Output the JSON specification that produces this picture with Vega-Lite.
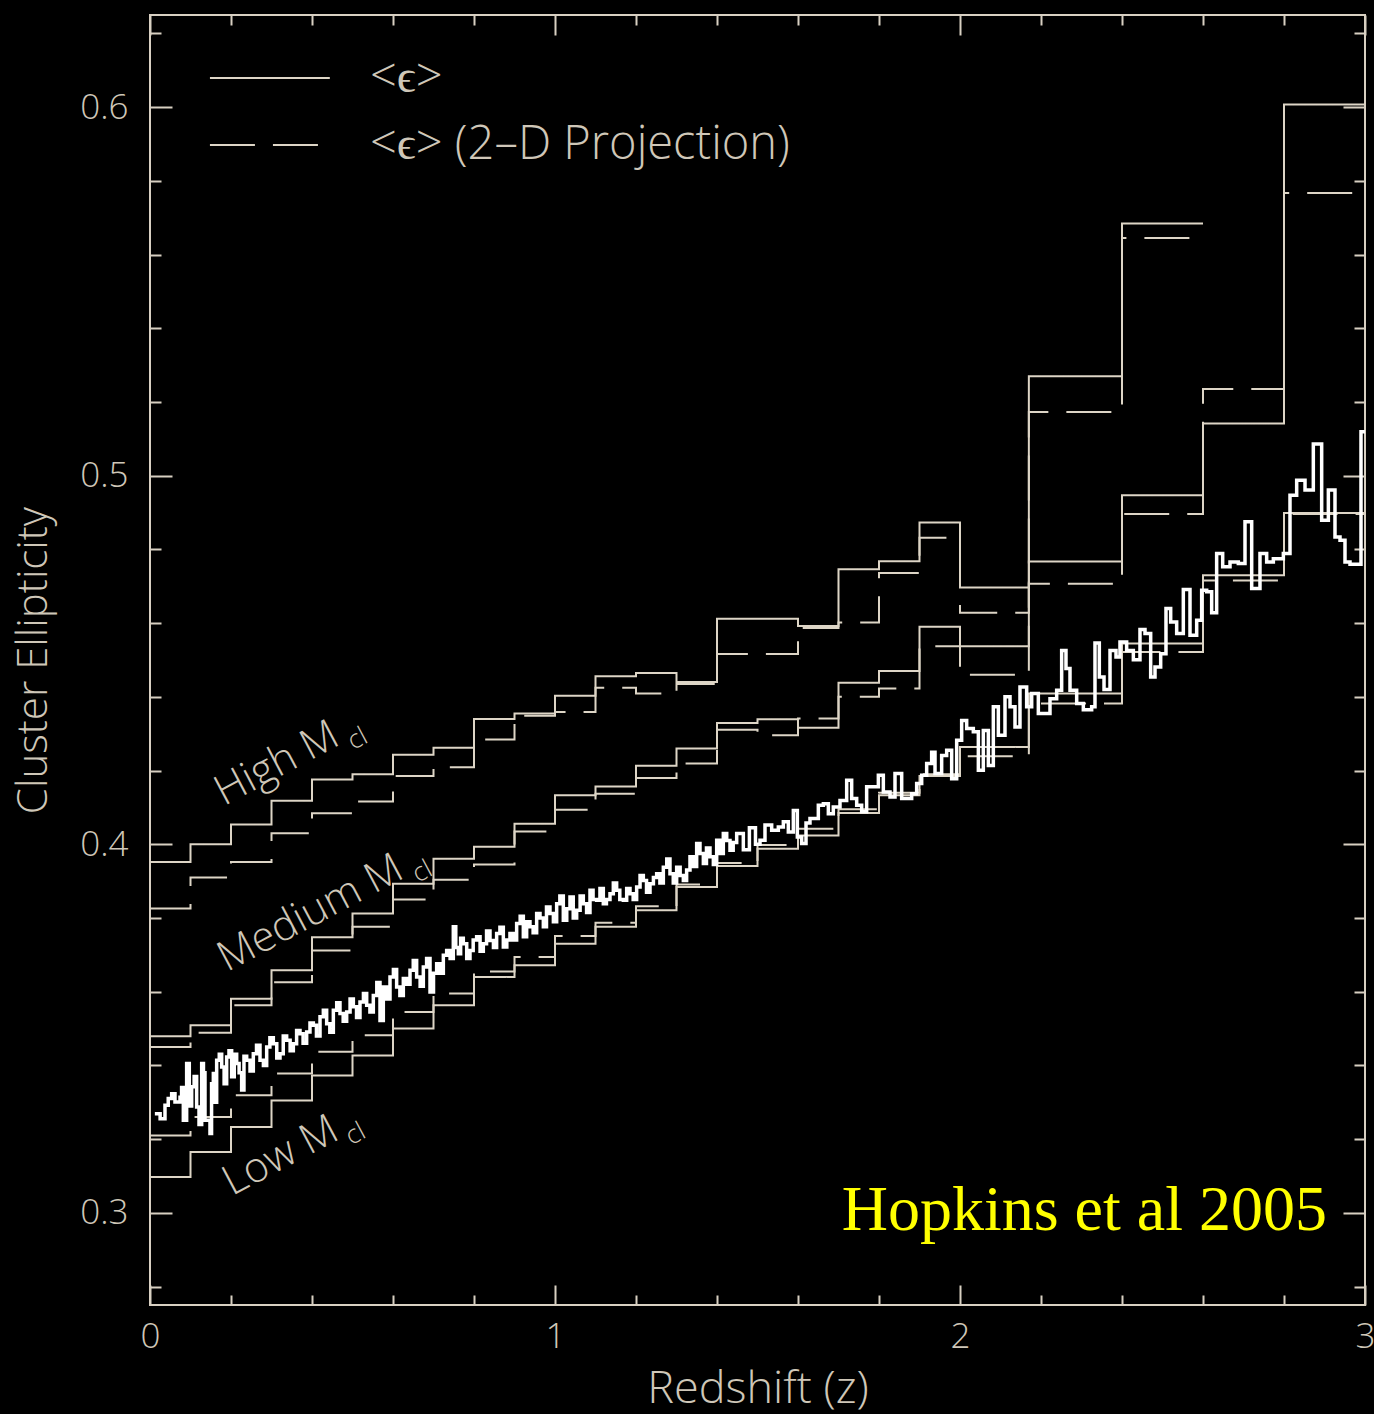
{
  "$schema": "https://vega.github.io/schema/vega-lite/v6.json",
  "width": 1215,
  "height": 1290,
  "autosize": {"type": "none"},
  "padding": {"left": 150, "top": 15, "right": 9, "bottom": 109},
  "background": "#000000",
  "config": {
    "view": {"stroke": "#d8d0c2", "strokeWidth": 2},
    "axis": {
      "domain": false, "grid": false,
      "labelColor": "#cfc7b8", "titleColor": "#cfc7b8",
      "tickColor": "#d8d0c2", "tickWidth": 2,
      "labelFont": "Open Sans", "titleFont": "Open Sans",
      "labelFontWeight": 300, "titleFontWeight": 300,
      "labelFontSize": 35, "titleFontSize": 45
    }
  },
  "datasets": {
    "steps": [
      {"s":"High","k":"3D","z":0,"v":0.3952},{"s":"High","k":"3D","z":0.1,"v":0.4000},{"s":"High","k":"3D","z":0.2,"v":0.4054},{"s":"High","k":"3D","z":0.3,"v":0.4118},{"s":"High","k":"3D","z":0.4,"v":0.4176},{"s":"High","k":"3D","z":0.5,"v":0.4190},{"s":"High","k":"3D","z":0.6,"v":0.4243},{"s":"High","k":"3D","z":0.7,"v":0.4262},{"s":"High","k":"3D","z":0.8,"v":0.4340},{"s":"High","k":"3D","z":0.9,"v":0.4355},{"s":"High","k":"3D","z":1.0,"v":0.4403},{"s":"High","k":"3D","z":1.1,"v":0.4456},{"s":"High","k":"3D","z":1.2,"v":0.4465},{"s":"High","k":"3D","z":1.3,"v":0.4440},{"s":"High","k":"3D","z":1.4,"v":0.4612},{"s":"High","k":"3D","z":1.5,"v":0.4612},{"s":"High","k":"3D","z":1.6,"v":0.4592},{"s":"High","k":"3D","z":1.7,"v":0.4746},{"s":"High","k":"3D","z":1.8,"v":0.4768},{"s":"High","k":"3D","z":1.9,"v":0.4873},{"s":"High","k":"3D","z":2.0,"v":0.4697},{"s":"High","k":"3D","z":2.17,"v":0.5270},{"s":"High","k":"3D","z":2.4,"v":0.5684},{"s":"High","k":"3D","z":2.6,"v":0.5684},
      {"s":"High","k":"2D","z":0,"v":0.3826},{"s":"High","k":"2D","z":0.1,"v":0.3910},{"s":"High","k":"2D","z":0.2,"v":0.3952},{"s":"High","k":"2D","z":0.3,"v":0.4030},{"s":"High","k":"2D","z":0.4,"v":0.4084},{"s":"High","k":"2D","z":0.5,"v":0.4116},{"s":"High","k":"2D","z":0.6,"v":0.4185},{"s":"High","k":"2D","z":0.7,"v":0.4209},{"s":"High","k":"2D","z":0.8,"v":0.4284},{"s":"High","k":"2D","z":0.9,"v":0.4349},{"s":"High","k":"2D","z":1.0,"v":0.4359},{"s":"High","k":"2D","z":1.1,"v":0.4425},{"s":"High","k":"2D","z":1.2,"v":0.4409},{"s":"High","k":"2D","z":1.3,"v":0.4435},{"s":"High","k":"2D","z":1.4,"v":0.4516},{"s":"High","k":"2D","z":1.5,"v":0.4516},{"s":"High","k":"2D","z":1.6,"v":0.4587},{"s":"High","k":"2D","z":1.7,"v":0.4602},{"s":"High","k":"2D","z":1.8,"v":0.4736},{"s":"High","k":"2D","z":1.9,"v":0.4832},{"s":"High","k":"2D","z":2.0,"v":0.4628},{"s":"High","k":"2D","z":2.17,"v":0.5173},{"s":"High","k":"2D","z":2.4,"v":0.5645},{"s":"High","k":"2D","z":2.6,"v":0.5645},
      {"s":"Medium","k":"3D","z":0,"v":0.3479},{"s":"Medium","k":"3D","z":0.1,"v":0.3509},{"s":"Medium","k":"3D","z":0.2,"v":0.3581},{"s":"Medium","k":"3D","z":0.3,"v":0.3658},{"s":"Medium","k":"3D","z":0.4,"v":0.3748},{"s":"Medium","k":"3D","z":0.5,"v":0.3812},{"s":"Medium","k":"3D","z":0.6,"v":0.3893},{"s":"Medium","k":"3D","z":0.7,"v":0.3961},{"s":"Medium","k":"3D","z":0.8,"v":0.3993},{"s":"Medium","k":"3D","z":0.9,"v":0.4056},{"s":"Medium","k":"3D","z":1.0,"v":0.4133},{"s":"Medium","k":"3D","z":1.1,"v":0.4157},{"s":"Medium","k":"3D","z":1.2,"v":0.4213},{"s":"Medium","k":"3D","z":1.3,"v":0.4260},{"s":"Medium","k":"3D","z":1.4,"v":0.4329},{"s":"Medium","k":"3D","z":1.5,"v":0.4339},{"s":"Medium","k":"3D","z":1.6,"v":0.4316},{"s":"Medium","k":"3D","z":1.7,"v":0.4438},{"s":"Medium","k":"3D","z":1.8,"v":0.4470},{"s":"Medium","k":"3D","z":1.9,"v":0.4590},{"s":"Medium","k":"3D","z":2.0,"v":0.4537},{"s":"Medium","k":"3D","z":2.17,"v":0.4767},{"s":"Medium","k":"3D","z":2.4,"v":0.4947},{"s":"Medium","k":"3D","z":2.6,"v":0.5142},{"s":"Medium","k":"3D","z":2.8,"v":0.6007},{"s":"Medium","k":"3D","z":3.0,"v":0.6007},
      {"s":"Medium","k":"2D","z":0,"v":0.3450},{"s":"Medium","k":"2D","z":0.1,"v":0.3489},{"s":"Medium","k":"2D","z":0.2,"v":0.3563},{"s":"Medium","k":"2D","z":0.3,"v":0.3626},{"s":"Medium","k":"2D","z":0.4,"v":0.3712},{"s":"Medium","k":"2D","z":0.5,"v":0.3776},{"s":"Medium","k":"2D","z":0.6,"v":0.3850},{"s":"Medium","k":"2D","z":0.7,"v":0.3904},{"s":"Medium","k":"2D","z":0.8,"v":0.3945},{"s":"Medium","k":"2D","z":0.9,"v":0.4035},{"s":"Medium","k":"2D","z":1.0,"v":0.4094},{"s":"Medium","k":"2D","z":1.1,"v":0.4137},{"s":"Medium","k":"2D","z":1.2,"v":0.4180},{"s":"Medium","k":"2D","z":1.3,"v":0.4219},{"s":"Medium","k":"2D","z":1.4,"v":0.4311},{"s":"Medium","k":"2D","z":1.5,"v":0.4296},{"s":"Medium","k":"2D","z":1.6,"v":0.4341},{"s":"Medium","k":"2D","z":1.7,"v":0.4400},{"s":"Medium","k":"2D","z":1.8,"v":0.4423},{"s":"Medium","k":"2D","z":1.9,"v":0.4537},{"s":"Medium","k":"2D","z":2.0,"v":0.4460},{"s":"Medium","k":"2D","z":2.17,"v":0.4707},{"s":"Medium","k":"2D","z":2.4,"v":0.4896},{"s":"Medium","k":"2D","z":2.6,"v":0.5235},{"s":"Medium","k":"2D","z":2.8,"v":0.5767},{"s":"Medium","k":"2D","z":3.0,"v":0.5767},
      {"s":"Low","k":"3D","z":0,"v":0.3097},{"s":"Low","k":"3D","z":0.1,"v":0.3165},{"s":"Low","k":"3D","z":0.2,"v":0.3233},{"s":"Low","k":"3D","z":0.3,"v":0.3305},{"s":"Low","k":"3D","z":0.4,"v":0.3373},{"s":"Low","k":"3D","z":0.5,"v":0.3427},{"s":"Low","k":"3D","z":0.6,"v":0.3500},{"s":"Low","k":"3D","z":0.7,"v":0.3563},{"s":"Low","k":"3D","z":0.8,"v":0.3640},{"s":"Low","k":"3D","z":0.9,"v":0.3672},{"s":"Low","k":"3D","z":1.0,"v":0.3730},{"s":"Low","k":"3D","z":1.1,"v":0.3776},{"s":"Low","k":"3D","z":1.2,"v":0.3821},{"s":"Low","k":"3D","z":1.3,"v":0.3884},{"s":"Low","k":"3D","z":1.4,"v":0.3941},{"s":"Low","k":"3D","z":1.5,"v":0.3988},{"s":"Low","k":"3D","z":1.6,"v":0.4024},{"s":"Low","k":"3D","z":1.7,"v":0.4085},{"s":"Low","k":"3D","z":1.8,"v":0.4133},{"s":"Low","k":"3D","z":1.9,"v":0.4185},{"s":"Low","k":"3D","z":2.0,"v":0.4264},{"s":"Low","k":"3D","z":2.17,"v":0.4409},{"s":"Low","k":"3D","z":2.4,"v":0.4545},{"s":"Low","k":"3D","z":2.6,"v":0.4730},{"s":"Low","k":"3D","z":2.8,"v":0.4899},{"s":"Low","k":"3D","z":3.0,"v":0.4899},
      {"s":"Low","k":"2D","z":0,"v":0.3210},{"s":"Low","k":"2D","z":0.1,"v":0.3260},{"s":"Low","k":"2D","z":0.2,"v":0.3319},{"s":"Low","k":"2D","z":0.3,"v":0.3378},{"s":"Low","k":"2D","z":0.4,"v":0.3437},{"s":"Low","k":"2D","z":0.5,"v":0.3482},{"s":"Low","k":"2D","z":0.6,"v":0.3545},{"s":"Low","k":"2D","z":0.7,"v":0.3595},{"s":"Low","k":"2D","z":0.8,"v":0.3655},{"s":"Low","k":"2D","z":0.9,"v":0.3694},{"s":"Low","k":"2D","z":1.0,"v":0.3751},{"s":"Low","k":"2D","z":1.1,"v":0.3787},{"s":"Low","k":"2D","z":1.2,"v":0.3832},{"s":"Low","k":"2D","z":1.3,"v":0.3891},{"s":"Low","k":"2D","z":1.4,"v":0.3949},{"s":"Low","k":"2D","z":1.5,"v":0.3998},{"s":"Low","k":"2D","z":1.6,"v":0.4042},{"s":"Low","k":"2D","z":1.7,"v":0.4095},{"s":"Low","k":"2D","z":1.8,"v":0.4140},{"s":"Low","k":"2D","z":1.9,"v":0.4190},{"s":"Low","k":"2D","z":2.0,"v":0.4239},{"s":"Low","k":"2D","z":2.17,"v":0.4382},{"s":"Low","k":"2D","z":2.4,"v":0.4522},{"s":"Low","k":"2D","z":2.6,"v":0.4716},{"s":"Low","k":"2D","z":2.8,"v":0.4896},{"s":"Low","k":"2D","z":3.0,"v":0.4896}
    ],
    "white": [
      {"z":0.012,"v":0.3269},{"z":0.037,"v":0.3292},{"z":0.0535,"v":0.3323},{"z":0.0617,"v":0.3301},{"z":0.0741,"v":0.3314},{"z":0.0823,"v":0.3251},{"z":0.0905,"v":0.3405},{"z":0.1029,"v":0.3342},{"z":0.1152,"v":0.3287},{"z":0.1276,"v":0.3405},{"z":0.1358,"v":0.3251},{"z":0.1481,"v":0.3215},{"z":0.1564,"v":0.3378},{"z":0.1646,"v":0.3414},{"z":0.177,"v":0.3396},{"z":0.1893,"v":0.3423},{"z":0.2016,"v":0.3369},{"z":0.214,"v":0.3405},{"z":0.2263,"v":0.3333},{"z":0.2387,"v":0.3414},{"z":0.2551,"v":0.3432},{"z":0.2716,"v":0.3414},{"z":0.2881,"v":0.345},{"z":0.3045,"v":0.3459},{"z":0.321,"v":0.3432},{"z":0.3374,"v":0.3468},{"z":0.3539,"v":0.3459},{"z":0.3704,"v":0.3486},{"z":0.3868,"v":0.3491},{"z":0.4033,"v":0.3509},{"z":0.4198,"v":0.3532},{"z":0.4362,"v":0.3513},{"z":0.4527,"v":0.355},{"z":0.4691,"v":0.3541},{"z":0.4856,"v":0.3545},{"z":0.5021,"v":0.3559},{"z":0.5185,"v":0.3572},{"z":0.535,"v":0.3563},{"z":0.5514,"v":0.359},{"z":0.5679,"v":0.3522},{"z":0.5761,"v":0.3613},{"z":0.5926,"v":0.364},{"z":0.609,"v":0.3613},{"z":0.6255,"v":0.3636},{"z":0.642,"v":0.3658},{"z":0.6584,"v":0.364},{"z":0.6749,"v":0.3667},{"z":0.6914,"v":0.3599},{"z":0.7078,"v":0.3676},{"z":0.7243,"v":0.3699},{"z":0.7325,"v":0.3712},{"z":0.7489,"v":0.3776},{"z":0.7613,"v":0.3703},{"z":0.7736,"v":0.373},{"z":0.7901,"v":0.3712},{"z":0.8065,"v":0.3749},{"z":0.823,"v":0.373},{"z":0.8395,"v":0.3739},{"z":0.8559,"v":0.3758},{"z":0.8724,"v":0.3721},{"z":0.8888,"v":0.3758},{"z":0.9053,"v":0.3785},{"z":0.9218,"v":0.3749},{"z":0.9382,"v":0.3776},{"z":0.9547,"v":0.3812},{"z":0.9712,"v":0.3776},{"z":0.9876,"v":0.3812},{"z":1.0041,"v":0.3839},{"z":1.0205,"v":0.3794},{"z":1.037,"v":0.3857},{"z":1.0535,"v":0.3821},{"z":1.0699,"v":0.3839},{"z":1.0864,"v":0.3875},{"z":1.1028,"v":0.3848},{"z":1.1193,"v":0.3839},{"z":1.1358,"v":0.3866},{"z":1.1522,"v":0.3875},{"z":1.1687,"v":0.3848},{"z":1.1852,"v":0.3866},{"z":1.2016,"v":0.3884},{"z":1.2181,"v":0.3902},{"z":1.2346,"v":0.3893},{"z":1.251,"v":0.392},{"z":1.2675,"v":0.3938},{"z":1.2839,"v":0.392},{"z":1.3004,"v":0.3938},{"z":1.3169,"v":0.3902},{"z":1.3333,"v":0.3966},{"z":1.3498,"v":0.4002},{"z":1.3663,"v":0.3948},{"z":1.3827,"v":0.3966},{"z":1.3992,"v":0.4011},{"z":1.4156,"v":0.4029},{"z":1.4321,"v":0.3984},{"z":1.4486,"v":0.4029},{"z":1.465,"v":0.3985},{"z":1.48,"v":0.4045},{"z":1.495,"v":0.4},{"z":1.5062,"v":0.4011},{"z":1.5185,"v":0.4052},{"z":1.535,"v":0.4038},{"z":1.5514,"v":0.4047},{"z":1.5638,"v":0.4061},{"z":1.5761,"v":0.4033},{"z":1.5885,"v":0.4092},{"z":1.5984,"v":0.402},{"z":1.6091,"v":0.4002},{"z":1.6198,"v":0.4058},{"z":1.6296,"v":0.407},{"z":1.6502,"v":0.4106},{"z":1.6626,"v":0.411},{"z":1.6749,"v":0.4083},{"z":1.6872,"v":0.4101},{"z":1.7037,"v":0.4119},{"z":1.7202,"v":0.4174},{"z":1.7325,"v":0.4124},{"z":1.7449,"v":0.4106},{"z":1.7572,"v":0.4088},{"z":1.7695,"v":0.4156},{"z":1.7984,"v":0.4187},{"z":1.8107,"v":0.4142},{"z":1.8272,"v":0.4128},{"z":1.8395,"v":0.4192},{"z":1.856,"v":0.4124},{"z":1.8807,"v":0.4137},{"z":1.893,"v":0.4165},{"z":1.9054,"v":0.4187},{"z":1.9177,"v":0.4219},{"z":1.93,"v":0.425},{"z":1.9383,"v":0.4192},{"z":1.9547,"v":0.4241},{"z":1.9671,"v":0.4255},{"z":1.9794,"v":0.4178},{"z":1.9918,"v":0.4282},{"z":2.0041,"v":0.4336},{"z":2.0165,"v":0.4314},{"z":2.0329,"v":0.4305},{"z":2.0453,"v":0.4201},{"z":2.0576,"v":0.4309},{"z":2.07,"v":0.4214},{"z":2.0823,"v":0.4373},{"z":2.0947,"v":0.4296},{"z":2.1111,"v":0.44},{"z":2.1235,"v":0.4373},{"z":2.1358,"v":0.4318},{"z":2.1481,"v":0.4427},{"z":2.1646,"v":0.4373},{"z":2.177,"v":0.4409},{"z":2.1934,"v":0.4355},{"z":2.2222,"v":0.4395},{"z":2.2387,"v":0.4418},{"z":2.251,"v":0.4526},{"z":2.2617,"v":0.4477},{"z":2.2716,"v":0.4418},{"z":2.2881,"v":0.4382},{"z":2.3045,"v":0.4365},{"z":2.3251,"v":0.4373},{"z":2.3333,"v":0.4546},{"z":2.344,"v":0.4454},{"z":2.3556,"v":0.442},{"z":2.3704,"v":0.4526},{"z":2.3852,"v":0.4508},{"z":2.395,"v":0.4549},{"z":2.4115,"v":0.4526},{"z":2.428,"v":0.4501},{"z":2.4444,"v":0.4583},{"z":2.4568,"v":0.4572},{"z":2.4708,"v":0.4454},{"z":2.4815,"v":0.4481},{"z":2.4955,"v":0.4517},{"z":2.5086,"v":0.464},{"z":2.5202,"v":0.4603},{"z":2.535,"v":0.4572},{"z":2.5514,"v":0.4691},{"z":2.5679,"v":0.4567},{"z":2.5844,"v":0.4608},{"z":2.5967,"v":0.4689},{"z":2.6091,"v":0.4685},{"z":2.6214,"v":0.4628},{"z":2.6337,"v":0.4789},{"z":2.6486,"v":0.4753},{"z":2.6667,"v":0.4766},{"z":2.6872,"v":0.4762},{"z":2.7037,"v":0.4875},{"z":2.7202,"v":0.4694},{"z":2.7407,"v":0.4789},{"z":2.7572,"v":0.4766},{"z":2.7737,"v":0.4775},{"z":2.7984,"v":0.4789},{"z":2.8148,"v":0.4947},{"z":2.8313,"v":0.4988},{"z":2.8519,"v":0.4961},{"z":2.8724,"v":0.5086},{"z":2.893,"v":0.4879},{"z":2.9095,"v":0.4961},{"z":2.9259,"v":0.4834},{"z":2.9383,"v":0.4825},{"z":2.9506,"v":0.4766},{"z":2.963,"v":0.476},{"z":2.9901,"v":0.5119},{"z":3.0,"v":0.5119},
      {"z":0.025,"v":0.3255},{"z":0.045,"v":0.331},{"z":0.078,"v":0.334},{"z":0.097,"v":0.329},{"z":0.109,"v":0.337},{"z":0.121,"v":0.324},{"z":0.132,"v":0.338},{"z":0.152,"v":0.335},{"z":0.16,"v":0.33},{"z":0.171,"v":0.343},{"z":0.183,"v":0.335},{"z":0.195,"v":0.344},{"z":0.208,"v":0.343},{"z":0.22,"v":0.338},{"z":0.232,"v":0.3425},{"z":0.247,"v":0.3385},{"z":0.263,"v":0.3455},{"z":0.28,"v":0.34},{"z":0.296,"v":0.3475},{"z":0.313,"v":0.342},{"z":0.329,"v":0.348},{"z":0.346,"v":0.344},{"z":0.362,"v":0.3495},{"z":0.378,"v":0.346},{"z":0.395,"v":0.3515},{"z":0.411,"v":0.348},{"z":0.428,"v":0.355},{"z":0.444,"v":0.349},{"z":0.461,"v":0.357},{"z":0.477,"v":0.352},{"z":0.494,"v":0.358},{"z":0.51,"v":0.353},{"z":0.527,"v":0.3595},{"z":0.543,"v":0.3545},{"z":0.56,"v":0.3625},{"z":0.584,"v":0.358},{"z":0.601,"v":0.366},{"z":0.617,"v":0.359},{"z":0.634,"v":0.362},{"z":0.65,"v":0.3685},{"z":0.667,"v":0.3615},{"z":0.683,"v":0.369},{"z":0.7,"v":0.365},{"z":0.716,"v":0.365},{"z":0.741,"v":0.369},{"z":0.755,"v":0.372},{"z":0.767,"v":0.3745},{"z":0.782,"v":0.369},{"z":0.798,"v":0.374},{"z":0.815,"v":0.371},{"z":0.831,"v":0.3765},{"z":0.848,"v":0.372},{"z":0.864,"v":0.3775},{"z":0.881,"v":0.374},{"z":0.897,"v":0.374},{"z":0.914,"v":0.3805},{"z":0.93,"v":0.379},{"z":0.946,"v":0.376},{"z":0.963,"v":0.38},{"z":0.979,"v":0.383},{"z":0.996,"v":0.379},{"z":1.012,"v":0.386},{"z":1.029,"v":0.3825},{"z":1.045,"v":0.38},{"z":1.062,"v":0.386},{"z":1.078,"v":0.3815},{"z":1.094,"v":0.385},{"z":1.111,"v":0.388},{"z":1.127,"v":0.385},{"z":1.144,"v":0.3895},{"z":1.16,"v":0.385},{"z":1.177,"v":0.388},{"z":1.193,"v":0.385},{"z":1.21,"v":0.3915},{"z":1.226,"v":0.387},{"z":1.243,"v":0.391},{"z":1.259,"v":0.3895},{"z":1.276,"v":0.396},{"z":1.292,"v":0.3895},{"z":1.309,"v":0.3915},{"z":1.325,"v":0.393},{"z":1.342,"v":0.394},{"z":1.358,"v":0.3975},{"z":1.374,"v":0.399},{"z":1.391,"v":0.3945},{"z":1.407,"v":0.3975},{"z":1.424,"v":0.401},{"z":1.44,"v":0.4005}
    ],
    "legendRules": [
      {"k":"3D","z1":0.148,"z2":0.444,"v":0.6079},
      {"k":"2D","z1":0.148,"z2":0.444,"v":0.5897}
    ],
    "legendText": [
      {"t":"<ϵ>","z":0.543,"v":0.6079},
      {"t":"<ϵ> (2–D Projection)","z":0.543,"v":0.5897}
    ],
    "notes": [
      {"t":"High M","z":0.1827,"v":0.4103},
      {"t":"Medium M","z":0.190,"v":0.3653},
      {"t":"Low M","z":0.2025,"v":0.3045}
    ],
    "subs": [
      {"t":"cl","z":0.502,"v":0.4255},
      {"t":"cl","z":0.662,"v":0.3895},
      {"t":"cl","z":0.497,"v":0.3183}
    ],
    "credit": [
      {"t":"Hopkins et al 2005","z":2.307,"v":0.2953}
    ]
  },
  "layer": [
    {
      "data": {"name": "steps"},
      "mark": {"type": "line", "interpolate": "step-after", "strokeWidth": 2, "color": "#ddd5c6"},
      "encoding": {
        "x": {"field": "z", "type": "quantitative", "scale": {"domain": [0, 3], "nice": false, "zero": false},
              "axis": {"orient": "bottom", "values": [0, 1, 2, 3], "format": "d", "ticks": false, "labelFlush": false, "labelPadding": 14, "title": "Redshift (z)", "titlePadding": 12}},
        "y": {"field": "v", "type": "quantitative", "scale": {"domain": [0.275, 0.625], "nice": false, "zero": false},
              "axis": {"orient": "left", "values": [0.3, 0.4, 0.5, 0.6], "format": ".1f", "ticks": false, "labelFlush": false, "labelPadding": 22, "title": "Cluster Ellipticity", "titleFontSize": 42, "titlePadding": 24}},
        "detail": {"field": "s"},
        "strokeDash": {"field": "k", "type": "nominal", "scale": {"domain": ["3D", "2D"], "range": [[1, 0], [45, 18]]}, "legend": null}
      }
    },
    {
      "data": {"name": "white"},
      "mark": {"type": "line", "interpolate": "step-after", "strokeWidth": 3.5, "color": "#ffffff"},
      "encoding": {
        "x": {"field": "z", "type": "quantitative", "scale": {"domain": [0, 3], "nice": false, "zero": false},
              "axis": {"orient": "bottom", "values": [0, 1, 2, 3], "tickSize": -20, "labels": false, "title": null}},
        "y": {"field": "v", "type": "quantitative", "scale": {"domain": [0.275, 0.625], "nice": false, "zero": false},
              "axis": {"orient": "left", "values": [0.3, 0.4, 0.5, 0.6], "tickSize": -22, "labels": false, "title": null}}
      }
    },
    {
      "data": {"name": "legendRules"},
      "mark": {"type": "rule", "strokeWidth": 2, "color": "#ddd5c6"},
      "encoding": {
        "x": {"field": "z1", "type": "quantitative", "scale": {"domain": [0, 3], "nice": false, "zero": false},
              "axis": {"orient": "bottom", "values": [0.2, 0.4, 0.6, 0.8, 1.2, 1.4, 1.6, 1.8, 2.2, 2.4, 2.6, 2.8], "tickSize": -10, "labels": false, "title": null}},
        "x2": {"field": "z2"},
        "y": {"field": "v", "type": "quantitative", "scale": {"domain": [0.275, 0.625], "nice": false, "zero": false},
              "axis": {"orient": "left", "values": [0.28, 0.32, 0.34, 0.36, 0.38, 0.42, 0.44, 0.46, 0.48, 0.52, 0.54, 0.56, 0.58, 0.62], "tickSize": -11, "labels": false, "title": null}},
        "strokeDash": {"field": "k", "type": "nominal", "scale": {"domain": ["3D", "2D"], "range": [[1, 0], [45, 18]]}, "legend": null}
      }
    },
    {
      "data": {"name": "legendText"},
      "mark": {"type": "text", "align": "left", "baseline": "middle", "font": "Open Sans", "fontWeight": 300, "fontSize": 47, "color": "#cfc7b8"},
      "encoding": {
        "x": {"field": "z", "type": "quantitative", "scale": {"domain": [0, 3], "nice": false, "zero": false},
              "axis": {"orient": "top", "values": [0, 1, 2, 3], "tickSize": -20, "labels": false, "title": null}},
        "y": {"field": "v", "type": "quantitative", "scale": {"domain": [0.275, 0.625], "nice": false, "zero": false},
              "axis": {"orient": "right", "values": [0.3, 0.4, 0.5, 0.6], "tickSize": -22, "labels": false, "title": null}},
        "text": {"field": "t"}
      }
    },
    {
      "data": {"name": "notes"},
      "mark": {"type": "text", "align": "left", "baseline": "alphabetic", "angle": 332, "font": "Open Sans", "fontWeight": 300, "fontSize": 42, "color": "#cfc7b8"},
      "encoding": {
        "x": {"field": "z", "type": "quantitative", "scale": {"domain": [0, 3], "nice": false, "zero": false},
              "axis": {"orient": "top", "values": [0.2, 0.4, 0.6, 0.8, 1.2, 1.4, 1.6, 1.8, 2.2, 2.4, 2.6, 2.8], "tickSize": -10, "labels": false, "title": null}},
        "y": {"field": "v", "type": "quantitative", "scale": {"domain": [0.275, 0.625], "nice": false, "zero": false},
              "axis": {"orient": "right", "values": [0.28, 0.32, 0.34, 0.36, 0.38, 0.42, 0.44, 0.46, 0.48, 0.52, 0.54, 0.56, 0.58, 0.62], "tickSize": -11, "labels": false, "title": null}},
        "text": {"field": "t"}
      }
    },
    {
      "data": {"name": "subs"},
      "mark": {"type": "text", "align": "left", "baseline": "alphabetic", "angle": 332, "font": "Open Sans", "fontWeight": 300, "fontSize": 26, "color": "#cfc7b8"},
      "encoding": {
        "x": {"field": "z", "type": "quantitative", "scale": {"domain": [0, 3], "nice": false, "zero": false}, "axis": null},
        "y": {"field": "v", "type": "quantitative", "scale": {"domain": [0.275, 0.625], "nice": false, "zero": false}, "axis": null},
        "text": {"field": "t"}
      }
    },
    {
      "data": {"name": "credit"},
      "mark": {"type": "text", "align": "center", "baseline": "alphabetic", "font": "Liberation Serif", "fontSize": 64, "color": "#ffff00"},
      "encoding": {
        "x": {"field": "z", "type": "quantitative", "scale": {"domain": [0, 3], "nice": false, "zero": false}, "axis": null},
        "y": {"field": "v", "type": "quantitative", "scale": {"domain": [0.275, 0.625], "nice": false, "zero": false}, "axis": null},
        "text": {"field": "t"}
      }
    }
  ],
  "resolve": {"axis": {"x": "independent", "y": "independent"}}
}
